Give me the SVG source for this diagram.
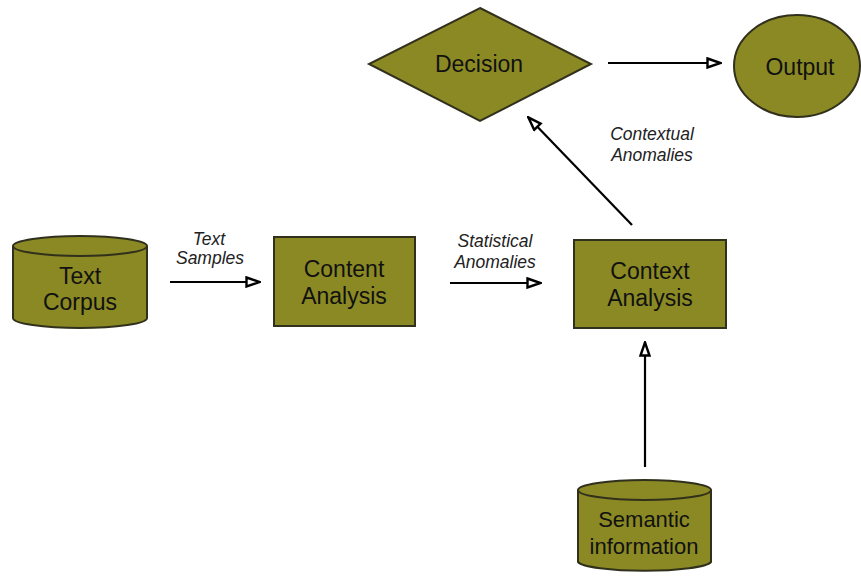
<svg xmlns="http://www.w3.org/2000/svg" width="861" height="576" viewBox="0 0 861 576">
  <style>
    .shape { fill: #8b8924; stroke: #30301c; stroke-width: 2; }
    .lbl { font-family: "Liberation Sans", Arial, sans-serif; font-size: 23px; fill: #111; text-anchor: middle; }
    .edge-lbl { font-family: "Liberation Sans", Arial, sans-serif; font-size: 17.5px; font-style: italic; fill: #222; text-anchor: middle; }
    .edge { stroke: #000; stroke-width: 2.2; fill: none; marker-end: url(#openArrow); }
  </style>
  <defs>
    <marker id="openArrow" viewBox="0 0 16 12" refX="15" refY="6" markerWidth="16" markerHeight="12" markerUnits="userSpaceOnUse" orient="auto">
      <path d="M1.5,1.5 L14.5,6 L1.5,10.5 Z" fill="#fff" stroke="#000" stroke-width="2.4" stroke-linejoin="miter"/>
    </marker>
  </defs>
  <rect width="861" height="576" fill="#fff"/>

  <g id="connectors">
    <line class="edge" x1="170" y1="282" x2="260" y2="282"/>
    <line class="edge" x1="450" y1="283" x2="541" y2="283"/>
    <line class="edge" x1="632" y1="225" x2="528" y2="117"/>
    <line class="edge" x1="645" y1="467" x2="645" y2="342"/>
    <line class="edge" x1="608" y1="63" x2="721" y2="63"/>
    <text class="edge-lbl" x="209" y="245">Text</text>
    <text class="edge-lbl" x="210" y="264">Samples</text>
    <text class="edge-lbl" x="495" y="247">Statistical</text>
    <text class="edge-lbl" x="495" y="268">Anomalies</text>
    <text class="edge-lbl" x="652" y="140">Contextual</text>
    <text class="edge-lbl" x="652" y="161">Anomalies</text>
  </g>

  <g id="text-corpus">
    <path class="shape" d="M13,246 L13,318 A67,10 0 0 0 147,318 L147,246"/>
    <ellipse class="shape" cx="80" cy="246" rx="67" ry="10"/>
    <text class="lbl" x="80" y="284">Text</text>
    <text class="lbl" x="80" y="310">Corpus</text>
  </g>

  <g id="content-analysis">
    <rect class="shape" x="274" y="237" width="141" height="89"/>
    <text class="lbl" x="344" y="277">Content</text>
    <text class="lbl" x="344" y="304">Analysis</text>
  </g>

  <g id="context-analysis">
    <rect class="shape" x="574" y="240" width="152" height="88"/>
    <text class="lbl" x="650" y="279">Context</text>
    <text class="lbl" x="650" y="306">Analysis</text>
  </g>

  <g id="decision">
    <polygon class="shape" points="480,8 591,64 480,121 369,64"/>
    <text class="lbl" x="479" y="72">Decision</text>
  </g>

  <g id="output">
    <ellipse class="shape" cx="797" cy="66" rx="63" ry="51"/>
    <text class="lbl" x="800" y="75">Output</text>
  </g>

  <g id="semantic-information">
    <path class="shape" d="M578,490 L578,562 A67,10 0 0 0 711,562 L711,490"/>
    <ellipse class="shape" cx="644.5" cy="490" rx="66.5" ry="10"/>
    <text class="lbl" x="644" y="527" style="font-size:22px">Semantic</text>
    <text class="lbl" x="644" y="554" style="font-size:22px">information</text>
  </g>
</svg>
